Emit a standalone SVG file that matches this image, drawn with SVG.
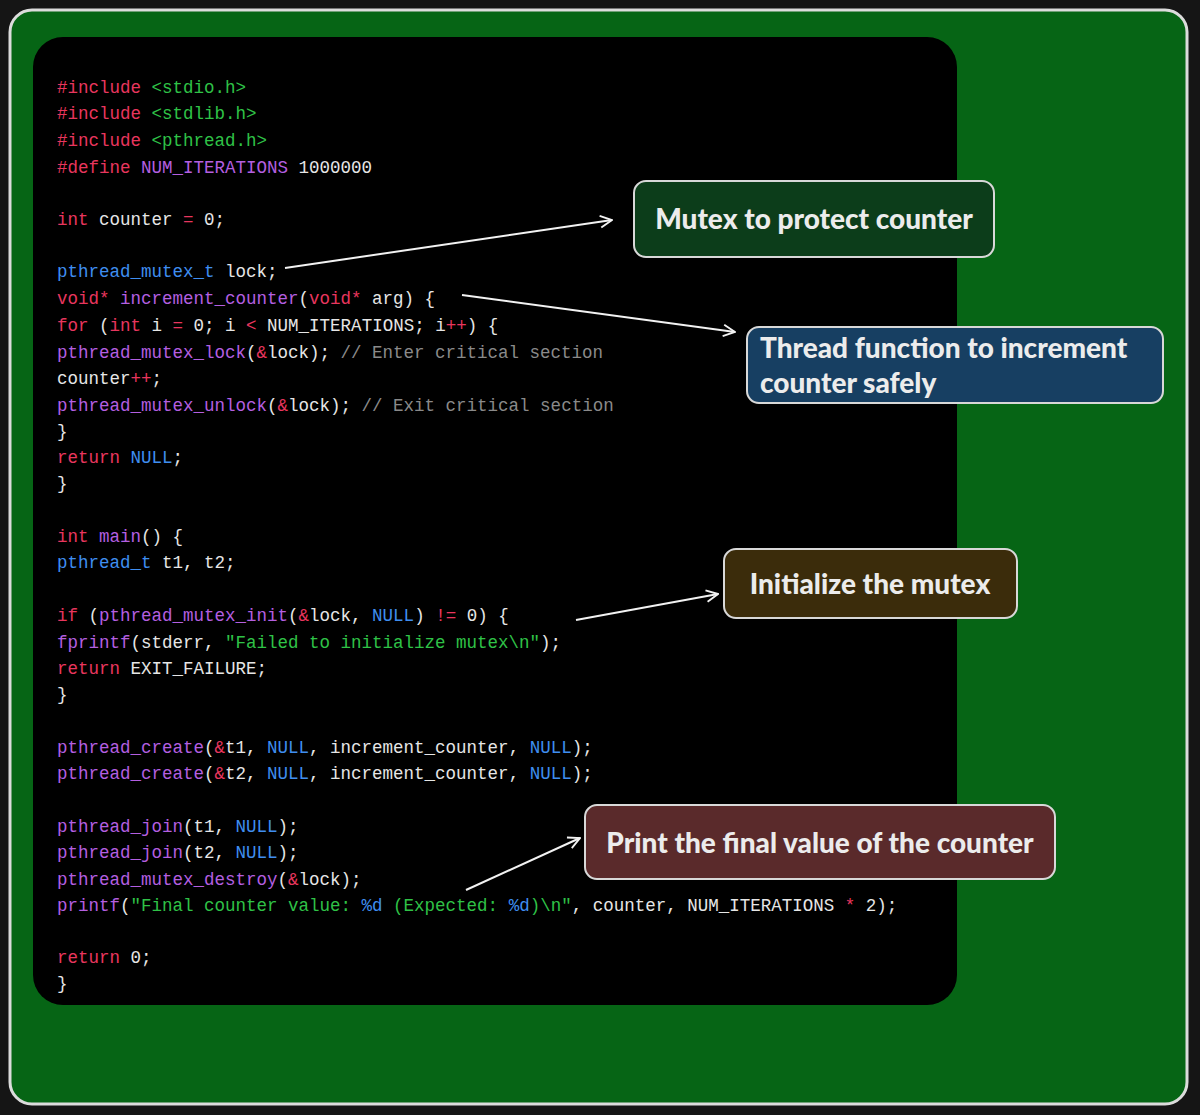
<svg xmlns="http://www.w3.org/2000/svg" width="1200" height="1115" viewBox="0 0 1200 1115">
<style>
.c{font-family:"Liberation Mono","DejaVu Sans Mono",monospace;font-size:17.5px;fill:#e6e6e6;white-space:pre}
.k{fill:#e8365e}.s{fill:#2fc247}.f{fill:#b45fe0}.b{fill:#3f8ef0}.g{fill:#8a8a8a}
.box{stroke:#d8d8d8;stroke-width:2}
.t{font-family:"Lato","Noto Sans",sans-serif;font-weight:900;font-size:28px;fill:#ececec}
.a{stroke:#f2f2f2;stroke-width:2;fill:none}
</style>
<defs><marker id="ah" viewBox="0 0 12 12" refX="11" refY="6" markerWidth="14" markerHeight="14" markerUnits="userSpaceOnUse" orient="auto"><path d="M1,1 L11,6 L1,11" fill="none" stroke="#f2f2f2" stroke-width="1.6"/></marker></defs>
<rect width="1200" height="1115" fill="#151515"/>
<rect x="10" y="10" width="1177" height="1094" rx="22" fill="#066515" stroke="#dcdcdc" stroke-width="3"/>
<rect x="33" y="37" width="924" height="968" rx="30" fill="#000"/>
<g id="code" class="c" xml:space="preserve">
<text x="57" y="93"><tspan class="k">#include</tspan> <tspan class="s">&lt;stdio.h&gt;</tspan></text>
<text x="57" y="119"><tspan class="k">#include</tspan> <tspan class="s">&lt;stdlib.h&gt;</tspan></text>
<text x="57" y="146"><tspan class="k">#include</tspan> <tspan class="s">&lt;pthread.h&gt;</tspan></text>
<text x="57" y="173"><tspan class="k">#define</tspan> <tspan class="f">NUM_ITERATIONS</tspan> 1000000</text>
<text x="57" y="225"><tspan class="k">int</tspan> counter <tspan class="k">=</tspan> 0;</text>
<text x="57" y="277"><tspan class="b">pthread_mutex_t</tspan> lock;</text>
<text x="57" y="304"><tspan class="k">void*</tspan> <tspan class="f">increment_counter</tspan>(<tspan class="k">void*</tspan> arg) {</text>
<text x="57" y="331">    <tspan class="k">for</tspan> (<tspan class="k">int</tspan> i <tspan class="k">=</tspan> 0; i <tspan class="k">&lt;</tspan> NUM_ITERATIONS; i<tspan class="k">++</tspan>) {</text>
<text x="57" y="358">        <tspan class="f">pthread_mutex_lock</tspan>(<tspan class="k">&amp;</tspan>lock);   <tspan class="g">// Enter critical section</tspan></text>
<text x="57" y="384">        counter<tspan class="k">++</tspan>;</text>
<text x="57" y="411">        <tspan class="f">pthread_mutex_unlock</tspan>(<tspan class="k">&amp;</tspan>lock); <tspan class="g">// Exit critical section</tspan></text>
<text x="57" y="437">    }</text>
<text x="57" y="463">    <tspan class="k">return</tspan> <tspan class="b">NULL</tspan>;</text>
<text x="57" y="489">}</text>
<text x="57" y="542"><tspan class="k">int</tspan> <tspan class="f">main</tspan>() {</text>
<text x="57" y="568">    <tspan class="b">pthread_t</tspan> t1, t2;</text>
<text x="57" y="621">    <tspan class="k">if</tspan> (<tspan class="f">pthread_mutex_init</tspan>(<tspan class="k">&amp;</tspan>lock, <tspan class="b">NULL</tspan>) <tspan class="k">!=</tspan> 0) {</text>
<text x="57" y="648">        <tspan class="f">fprintf</tspan>(stderr, <tspan class="s">"Failed to initialize mutex\n"</tspan>);</text>
<text x="57" y="674">        <tspan class="k">return</tspan> EXIT_FAILURE;</text>
<text x="57" y="700">    }</text>
<text x="57" y="753">    <tspan class="f">pthread_create</tspan>(<tspan class="k">&amp;</tspan>t1, <tspan class="b">NULL</tspan>, increment_counter, <tspan class="b">NULL</tspan>);</text>
<text x="57" y="779">    <tspan class="f">pthread_create</tspan>(<tspan class="k">&amp;</tspan>t2, <tspan class="b">NULL</tspan>, increment_counter, <tspan class="b">NULL</tspan>);</text>
<text x="57" y="832">    <tspan class="f">pthread_join</tspan>(t1, <tspan class="b">NULL</tspan>);</text>
<text x="57" y="858">    <tspan class="f">pthread_join</tspan>(t2, <tspan class="b">NULL</tspan>);</text>
<text x="57" y="885">    <tspan class="f">pthread_mutex_destroy</tspan>(<tspan class="k">&amp;</tspan>lock);</text>
<text x="57" y="911">    <tspan class="f">printf</tspan>(<tspan class="s">"Final counter value: </tspan><tspan class="b">%d</tspan><tspan class="s"> (Expected: </tspan><tspan class="b">%d</tspan><tspan class="s">)\n"</tspan>, counter, NUM_ITERATIONS <tspan class="k">*</tspan> 2);</text>
<text x="57" y="963">    <tspan class="k">return</tspan> 0;</text>
<text x="57" y="989">}</text>
</g>
<g id="connectors">
<line class="a" x1="285" y1="268" x2="612" y2="220" marker-end="url(#ah)"/>
<line class="a" x1="462" y1="295" x2="735" y2="332" marker-end="url(#ah)"/>
<line class="a" x1="576" y1="620" x2="718" y2="594" marker-end="url(#ah)"/>
<line class="a" x1="466" y1="890" x2="580" y2="838" marker-end="url(#ah)"/>
</g>
<g id="n1"><rect class="box" x="634" y="181" width="360" height="76" rx="12" fill="#0c3d1a"/><text class="t" x="814" y="229" text-anchor="middle">Mutex to protect counter</text></g>
<g id="n2"><rect class="box" x="747" y="327" width="416" height="76" rx="12" fill="#173f62"/><text class="t" x="760" y="358">Thread function to increment</text><text class="t" x="760" y="393">counter safely</text></g>
<g id="n3"><rect class="box" x="724" y="549" width="293" height="69" rx="12" fill="#3b2c0b"/><text class="t" x="870" y="594" text-anchor="middle">Initialize the mutex</text></g>
<g id="n4"><rect class="box" x="585" y="805" width="470" height="74" rx="12" fill="#5a2a2b"/><text class="t" x="820" y="853" text-anchor="middle">Print the final value of the counter</text></g>
</svg>
